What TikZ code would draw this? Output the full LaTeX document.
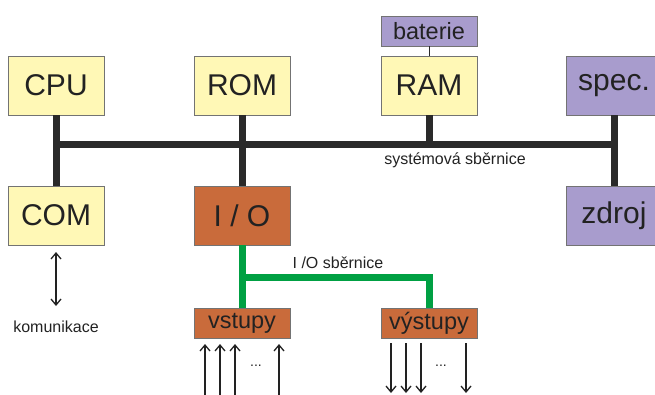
\documentclass[tikz,border=0pt]{standalone}
\usepackage{fontspec}
\setmainfont{Liberation Sans}
\usetikzlibrary{arrows.meta}
\definecolor{boxyellow}{HTML}{FFF8B6}
\definecolor{boxpurple}{HTML}{A89CCD}
\definecolor{boxorange}{HTML}{C96B3B}
\definecolor{busgreen}{HTML}{00A043}
\definecolor{busdark}{HTML}{2A2A2A}
\definecolor{txt}{HTML}{222222}
\begin{document}
\begin{tikzpicture}[x=1pt,y=-1pt,
  blk/.style={draw=gray!90!black, line width=0.8pt, minimum width=96pt, inner sep=0pt, text=txt},
  bigblk/.style={blk, minimum height=59pt, font=\fontsize{30}{32}\selectfont},
  smallblk/.style={blk, minimum height=30pt, font=\fontsize{23.5}{25}\selectfont},
  yel/.style={fill=boxyellow},
  pur/.style={fill=boxpurple},
  ora/.style={fill=boxorange},
  sysbus/.style={draw=busdark, line width=7pt},
  iobus/.style={draw=busgreen, line width=7pt},
  lbl/.style={font=\fontsize{16}{18}\selectfont, text=txt, inner sep=0pt},
  tip/.style={},
  sig/.style={draw=txt, line width=1.3pt, -{Straight Barb[length=6pt,width=10pt,line width=1.3pt]}},
  dots/.style={font=\fontsize{14}{16}\selectfont, text=txt, inner sep=0pt}
]
\useasboundingbox (0,0) rectangle (655,394);
\clip (0,0) rectangle (655,394);
% blocks
\node[bigblk,yel] (cpu) at (56,85.5) {CPU};
\node[bigblk,yel] (rom) at (242,85.5) {ROM};
\node[bigblk,yel] (ram) at (429,85.5) {RAM};
\node[bigblk,pur] (spec) at (614,85.5) {spec.};
\node[smallblk,pur] (bat) at (429,31) {baterie};
\node[bigblk,yel] (com) at (56,215.5) {COM};
\node[bigblk,ora] (io) at (242,215.5) {I / O};
\node[bigblk,pur] (zdroj) at (614,215.5) {zdroj};
\node[smallblk,ora] (vst) at (242,323) {vstupy};
\node[smallblk,ora] (vys) at (429,323) {výstupy};
% battery link
\draw[draw=busdark, line width=1pt] (bat.south) -- (ram.north);
% system bus
\coordinate (busL) at (56,144);
\coordinate (busR) at (614,144);
\draw[sysbus] (cpu.south) -- (com.north);
\draw[sysbus] (rom.south) -- (io.north);
\draw[sysbus] (ram.south) -- (ram.south |- busL);
\draw[sysbus] (spec.south) -- (zdroj.north);
\draw[sysbus] (busL) -- (busR);
\node[lbl] (syslbl) at (455,160) {systémová sběrnice};
% I/O bus
\coordinate (ioT) at (242,277);
\draw[iobus] (io.south) -- (vst.north);
\draw[iobus] (ioT) -- (ioT -| vys.north) -- (vys.north);
\node[lbl] (iolbl) at (338,263) {I /O sběrnice};
% communication
\coordinate (comA) at (56,252);
\coordinate (comB) at (56,306);
\draw[draw=txt, line width=1.3pt, {Straight Barb[length=6pt,width=10pt,line width=1.3pt]}-{Straight Barb[length=6pt,width=10pt,line width=1.3pt]}] (comA) -- (comB);
\node[lbl] (komlbl) at (56,327) {komunikace};
% inputs
\foreach \x [count=\i] in {205,220,235,279} {
  \coordinate (inB\i) at (\x,400);
  \coordinate (inT\i) at (\x,344);
  \draw[sig] (inB\i) -- (inT\i);
}
\node[dots] (indots) at (256,366) {...};
% outputs
\foreach \x [count=\i] in {391,406,421,466} {
  \coordinate (outT\i) at (\x,343);
  \coordinate (outB\i) at (\x,393);
  \draw[sig] (outT\i) -- (outB\i);
}
\node[dots] (outdots) at (441,366) {...};
\end{tikzpicture}
\end{document}
